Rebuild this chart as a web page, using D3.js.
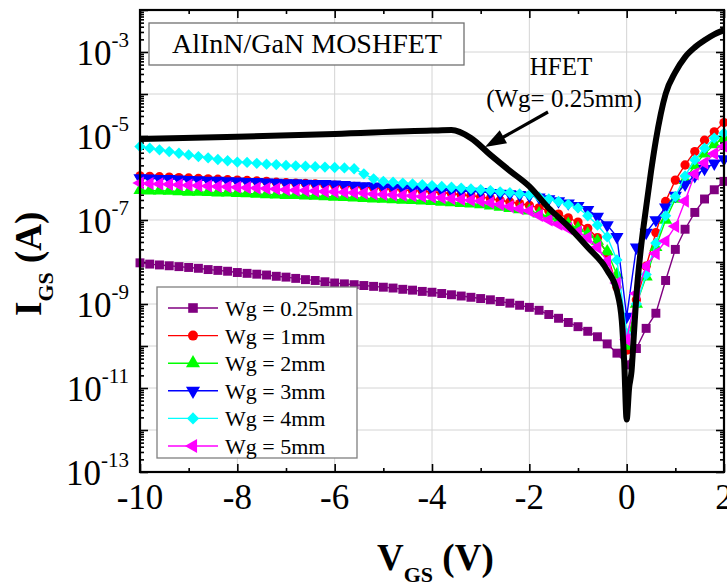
<!DOCTYPE html>
<html><head><meta charset="utf-8">
<script src="https://cdn.jsdelivr.net/npm/d3@7"></script>
<style>body{margin:0;background:#fff}svg{display:block}text{font-family:"Liberation Serif","Times New Roman",serif;fill:#000}</style>
</head><body><svg id="c" width="727" height="586" font-family="Liberation Serif"></svg>
<script>
// ---- data (I_GS stored as log10(A)) ----
const voltages = [-10,-9.8,-9.6,-9.4,-9.2,-9,-8.8,-8.6,-8.4,-8.2,
 -8,-7.8,-7.6,-7.4,-7.2,-7,-6.8,-6.6,-6.4,-6.2,
 -6,-5.8,-5.6,-5.4,-5.2,-5,-4.8,-4.6,-4.4,-4.2,
 -4,-3.8,-3.6,-3.4,-3.2,-3,-2.8,-2.6,-2.4,-2.2,
 -2,-1.8,-1.6,-1.4,-1.2,-1,-0.8,-0.6,-0.4,-0.2,
 0,0.2,0.4,0.6,0.8,1,1.2,1.4,1.6,1.8,2];
const seriesNames = ["Wg = 0.25mm","Wg = 1mm","Wg = 2mm","Wg = 3mm","Wg = 4mm","Wg = 5mm"];
const seriesColors = ["#800080","#ff0000","#00ff00","#0000ff","#00ffff","#ff00ff"];
const wg025 = [-8.02,-8.05,-8.07,-8.09,-8.11,-8.13,-8.15,-8.18,-8.20,-8.22,
 -8.25,-8.27,-8.29,-8.31,-8.34,-8.36,-8.39,-8.42,-8.44,-8.47,
 -8.50,-8.52,-8.54,-8.56,-8.58,-8.60,-8.62,-8.65,-8.67,-8.70,
 -8.72,-8.75,-8.78,-8.81,-8.84,-8.87,-8.90,-8.94,-8.98,-9.03,
 -9.08,-9.15,-9.25,-9.34,-9.44,-9.54,-9.65,-9.78,-9.95,-10.17,
 -10.45,-10.06,-9.58,-9.22,-8.44,-7.70,-7.22,-6.82,-6.50,-6.28,-6.08];
const wg1 = [-5.95,-5.96,-5.97,-5.98,-5.99,-6.00,-6.01,-6.02,-6.03,-6.04,
 -6.05,-6.06,-6.07,-6.08,-6.10,-6.11,-6.12,-6.13,-6.14,-6.16,
 -6.17,-6.19,-6.20,-6.22,-6.23,-6.25,-6.27,-6.28,-6.30,-6.31,
 -6.33,-6.35,-6.37,-6.40,-6.42,-6.45,-6.49,-6.53,-6.57,-6.61,
 -6.65,-6.71,-6.78,-6.86,-6.95,-7.05,-7.20,-7.42,-7.80,-8.60,
 -10.1,-8.9,-8.1,-7.3,-6.56,-6.05,-5.69,-5.37,-5.10,-4.90,-4.68];
const wg2 = [-6.29,-6.30,-6.30,-6.31,-6.32,-6.33,-6.33,-6.34,-6.35,-6.35,
 -6.36,-6.37,-6.38,-6.39,-6.40,-6.41,-6.41,-6.42,-6.43,-6.44,
 -6.45,-6.46,-6.47,-6.48,-6.49,-6.50,-6.51,-6.52,-6.53,-6.54,
 -6.55,-6.57,-6.58,-6.60,-6.61,-6.63,-6.66,-6.69,-6.72,-6.75,
 -6.78,-6.85,-6.92,-7.01,-7.10,-7.20,-7.33,-7.50,-7.75,-8.30,
 -10.0,-9.0,-8.35,-7.65,-7.0,-6.5,-6.05,-5.7,-5.42,-5.2,-5.05];
const wg3 = [-6.00,-6.01,-6.02,-6.02,-6.03,-6.04,-6.05,-6.06,-6.06,-6.07,
 -6.08,-6.09,-6.09,-6.10,-6.11,-6.12,-6.12,-6.13,-6.14,-6.14,
 -6.15,-6.16,-6.18,-6.19,-6.20,-6.22,-6.23,-6.24,-6.25,-6.27,
 -6.28,-6.29,-6.30,-6.31,-6.32,-6.33,-6.35,-6.37,-6.38,-6.40,
 -6.42,-6.46,-6.50,-6.55,-6.60,-6.66,-6.76,-6.92,-7.12,-7.40,
 -9.3,-7.65,-7.3,-7.0,-6.7,-6.42,-6.15,-5.95,-5.78,-5.65,-5.55];
const wg4 = [-5.25,-5.29,-5.33,-5.37,-5.41,-5.45,-5.49,-5.52,-5.56,-5.59,
 -5.62,-5.63,-5.65,-5.67,-5.68,-5.70,-5.71,-5.72,-5.73,-5.74,
 -5.75,-5.76,-5.78,-5.90,-6.02,-6.08,-6.10,-6.12,-6.14,-6.16,
 -6.18,-6.20,-6.22,-6.24,-6.26,-6.28,-6.30,-6.33,-6.35,-6.38,
 -6.40,-6.45,-6.50,-6.56,-6.63,-6.71,-6.90,-7.12,-7.40,-7.95,
 -9.7,-9.0,-8.3,-7.55,-6.9,-6.44,-5.95,-5.57,-5.29,-5.05,-4.93];
const wg5 = [-6.12,-6.13,-6.14,-6.15,-6.16,-6.17,-6.18,-6.19,-6.20,-6.21,
 -6.22,-6.23,-6.24,-6.25,-6.26,-6.28,-6.29,-6.30,-6.31,-6.32,
 -6.33,-6.34,-6.35,-6.36,-6.38,-6.39,-6.40,-6.41,-6.42,-6.44,
 -6.45,-6.47,-6.49,-6.51,-6.53,-6.55,-6.59,-6.63,-6.68,-6.73,
 -6.78,-6.89,-7.00,-7.10,-7.20,-7.28,-7.42,-7.65,-7.98,-8.50,
 -9.85,-8.75,-8.1,-7.8,-7.5,-7.15,-6.55,-5.9,-5.64,-5.42,-5.25];
const hfetV = [-10,-8,-6,-4,-3.6,-3.2,-2.8,-2.4,-2,-1.6,-1.2,-0.8,-0.4,-0.2,-0.1,-0.05,0,
 0.05,0.1,0.15,0.2,0.3,0.4,0.5,0.6,0.8,1,1.2,1.4,1.6,1.8,2];
const hfetLogI = [-5.07,-5.02,-4.95,-4.87,-4.86,-5.05,-5.45,-5.83,-6.2,-6.72,-7.15,-7.65,-8.2,-8.7,-9.4,-10.4,-11.75,
 -11.0,-10.6,-9.7,-8.8,-7.6,-6.7,-5.85,-5.1,-4.0,-3.48,-3.12,-2.89,-2.72,-2.58,-2.48];
const xTickValues = [-10,-8,-6,-4,-2,0,2];
const yLabelExponents = [-3,-5,-7,-9,-11,-13];

// ---- setup ----
const svg = d3.select("#c");
const L = 140, R = 724, T = 10, B = 472;
const x = d3.scaleLinear([-10, 2], [L, R]);
const y = d3.scaleLog([1e-13, 1e-2], [B, T]);
const allSeries = [wg025, wg1, wg2, wg3, wg4, wg5];

// gridlines
const grid = svg.append("g").attr("stroke", "#d4d4d4").attr("stroke-width", 1);
[-8, -6, -4, -2, 0].forEach(v => grid.append("line").attr("x1", x(v)).attr("x2", x(v)).attr("y1", T).attr("y2", B));
d3.range(-12, -2).forEach(e => grid.append("line").attr("x1", L).attr("x2", R).attr("y1", y(10 ** e)).attr("y2", y(10 ** e)));

// ticks (inward on all four sides)
const majorX = xTickValues, minorX = [-9, -7, -5, -3, -1, 1];
const majorY = d3.range(-13, -1).map(e => 10 ** e);
const minorY = [];
d3.range(-13, -2).forEach(e => { for (let k = 2; k <= 9; k++) minorY.push(k * 10 ** e); });
function addAxis(axisFn, scale, vals, size, tr) {
  const g = svg.append("g").attr("transform", tr)
    .call(axisFn(scale).tickValues(vals).tickSize(size).tickSizeOuter(0).tickFormat(""));
  g.select(".domain").remove();
  g.selectAll(".tick line").attr("stroke", "#000").attr("stroke-width", 1.6);
}
addAxis(d3.axisBottom, x, majorX, -8, `translate(0,${B})`);
addAxis(d3.axisBottom, x, minorX, -4, `translate(0,${B})`);
addAxis(d3.axisTop, x, majorX, -8, `translate(0,${T})`);
addAxis(d3.axisTop, x, minorX, -4, `translate(0,${T})`);
addAxis(d3.axisLeft, y, majorY, -8, `translate(${L},0)`);
addAxis(d3.axisLeft, y, minorY, -4, `translate(${L},0)`);
addAxis(d3.axisRight, y, majorY, -8, `translate(${R},0)`);
addAxis(d3.axisRight, y, minorY, -4, `translate(${R},0)`);

// series
const symbols = [
  {type: d3.symbolSquare, size: 80, rot: 0},
  {type: d3.symbolCircle, size: 68, rot: 0},
  {type: d3.symbolTriangle, size: 75, rot: 0},
  {type: d3.symbolTriangle, size: 75, rot: 180},
  {type: d3.symbolSquare, size: 64, rot: 45},
  {type: d3.symbolTriangle, size: 75, rot: -90}
];
const line = d3.line().x(d => x(d[0])).y(d => y(10 ** d[1]));
allSeries.forEach((vals, si) => {
  const pts = voltages.map((v, i) => [v, vals[i]]);
  const g = svg.append("g");
  g.append("path").attr("d", line(pts)).attr("fill", "none")
    .attr("stroke", seriesColors[si]).attr("stroke-width", 1.4);
  const sym = d3.symbol(symbols[si].type, symbols[si].size);
  g.selectAll("path.m").data(pts).join("path").attr("class", "m")
    .attr("d", sym)
    .attr("transform", d => `translate(${x(d[0])},${y(10 ** d[1])}) rotate(${symbols[si].rot})`)
    .attr("fill", seriesColors[si]);
});

// HFET line
const hfetPts = hfetV.map((v, i) => [v, hfetLogI[i]]);
svg.append("path").attr("d", d3.line().x(d => x(d[0])).y(d => y(10 ** d[1])).curve(d3.curveMonotoneX)(hfetPts))
  .attr("fill", "none").attr("stroke", "#000").attr("stroke-width", 6).attr("stroke-linejoin", "round");

// frame
svg.append("rect").attr("x", L).attr("y", T).attr("width", R - L).attr("height", B - T)
  .attr("fill", "none").attr("stroke", "#000").attr("stroke-width", 2.2);

// tick labels
xTickValues.forEach(v => svg.append("text").attr("x", x(v)).attr("y", 509)
  .attr("text-anchor", "middle").attr("font-size", 35).text(v < 0 ? "-" + Math.abs(v) : String(v)));
yLabelExponents.forEach(e => {
  const t = svg.append("text").attr("x", 129).attr("y", y(10 ** e) + 13)
    .attr("text-anchor", "end").attr("font-size", 35);
  t.append("tspan").text("10");
  t.append("tspan").attr("dy", -18).attr("font-size", 21).text("-" + Math.abs(e));
});

// axis titles
const xt = svg.append("text").attr("x", 377).attr("y", 570).attr("font-weight", "bold").attr("font-size", 37);
xt.append("tspan").text("V");
xt.append("tspan").attr("dy", 12).attr("font-size", 22).text("GS");
xt.append("tspan").attr("dy", -12).text(" (V)");
const yt = svg.append("text").attr("transform", "translate(41,316) rotate(-90)")
  .attr("font-weight", "bold").attr("font-size", 37);
yt.append("tspan").text("I");
yt.append("tspan").attr("dy", 12).attr("font-size", 22).text("GS");
yt.append("tspan").attr("dy", -12).text(" (A)");

// title box
svg.append("rect").attr("x", 149).attr("y", 23).attr("width", 315).attr("height", 42)
  .attr("fill", "#fff").attr("stroke", "#707070").attr("stroke-width", 1.3);
svg.append("text").attr("x", 307).attr("y", 53).attr("text-anchor", "middle")
  .attr("font-size", 28).text("AlInN/GaN MOSHFET");

// HFET annotation
svg.append("text").attr("x", 561).attr("y", 75).attr("text-anchor", "middle").attr("font-size", 25).text("HFET");
svg.append("text").attr("x", 564).attr("y", 107).attr("text-anchor", "middle").attr("font-size", 25).text("(Wg= 0.25mm)");
svg.append("line").attr("x1", 548).attr("y1", 112).attr("x2", 500).attr("y2", 139)
  .attr("stroke", "#000").attr("stroke-width", 3.2);
// arrowhead: tip at (485,147), pointing along the line direction
(function () {
  const tx = 485, ty = 147, dx = 548 - 485, dy = 112 - 147, len = Math.hypot(dx, dy);
  const ux = dx / len, uy = dy / len, px = -uy, py = ux, hl = 21, hw = 7.5;
  const bx = tx + ux * hl, by = ty + uy * hl;
  svg.append("path").attr("d", `M${tx},${ty}L${bx + px * hw},${by + py * hw}L${bx - px * hw},${by - py * hw}Z`)
    .attr("fill", "#000");
})();

// legend
const lg = svg.append("g");
lg.append("rect").attr("x", 157).attr("y", 287).attr("width", 200).attr("height", 171)
  .attr("fill", "#fff").attr("stroke", "#808080").attr("stroke-width", 1.3);
seriesNames.forEach((name, si) => {
  const ry = 308 + si * 27.6;
  lg.append("line").attr("x1", 168).attr("x2", 218).attr("y1", ry).attr("y2", ry)
    .attr("stroke", seriesColors[si]).attr("stroke-width", 1.4);
  lg.append("path").attr("d", d3.symbol(symbols[si].type, symbols[si].size * 1.15)())
    .attr("transform", `translate(193,${ry}) rotate(${symbols[si].rot})`).attr("fill", seriesColors[si]);
  lg.append("text").attr("x", 225).attr("y", ry + 8).attr("font-size", 22).text(name);
});
</script></body></html>
